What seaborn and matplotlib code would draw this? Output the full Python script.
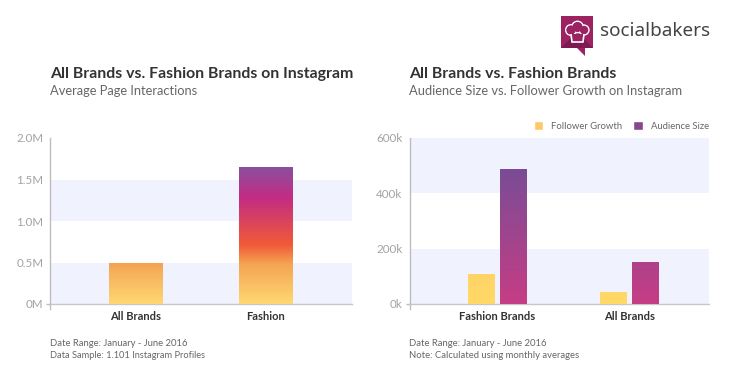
import numpy as np
import pandas as pd
import matplotlib
matplotlib.use('Agg')
import matplotlib.pyplot as plt
import seaborn as sns
from matplotlib.colors import LinearSegmentedColormap
from matplotlib.patches import Polygon, Circle, Rectangle

# data
left_categories = ['All Brands', 'Fashion']
left_values = [482000, 1647000]
left_ticks = [0, 500000, 1000000, 1500000, 2000000]
left_ticklabels = ['0M', '0.5M', '1.0M', '1.5M', '2.0M']

right_categories = ['Fashion Brands', 'All Brands']
follower_growth = [108000, 43000]
audience_size = [487000, 151000]
right_ticks = [0, 200000, 400000, 600000]
right_ticklabels = ['0k', '200k', '400k', '600k']

W, H = 730, 365
BAND = '#F0F2FD'
DARK = '#333333'
MID = '#666666'
GRAY = '#A3A3A3'
FONT = 'Lato'

sns.set_theme(style='white')
plt.rcParams['font.family'] = [FONT, 'DejaVu Sans']

left_cmap = LinearSegmentedColormap.from_list('left', [
    (0.0, '#FFD873'), (0.29, '#F4A452'), (0.43, '#F15B38'),
    (0.78, '#C32C84'), (1.0, '#8A4F9E')])
audience_cmap = LinearSegmentedColormap.from_list('aud', ['#C63D85', '#7A4C96'])
follower_cmap = LinearSegmentedColormap.from_list('fol', ['#FFD966', '#FFD468'])


def px_axes(fig, x0, x1, y0, y1):
    return fig.add_axes([x0 / W, 1 - y1 / H, (x1 - x0) / W, (y1 - y0) / H])


def gradient_bar(ax, patch, cmap, vmax):
    """ Fills a bar with a vertical gradient that follows the y scale. """
    top = patch.get_height()
    x = patch.get_x()
    grad = np.linspace(0, top / vmax, 200).reshape(-1, 1)
    ax.imshow(grad, cmap=cmap, vmin=0, vmax=1, origin='lower', aspect='auto',
              extent=[x, x + patch.get_width(), 0, top], zorder=3)
    patch.set_visible(False)


def style_axes(ax, ticks, ticklabels, bands, xlim):
    ymax = ticks[-1]
    for lo, hi in bands:
        ax.axhspan(lo, hi, color=BAND, lw=0, zorder=0)
    ax.set_xlim(*xlim)
    ax.set_ylim(0, ymax)
    ax.set_yticks(ticks)
    ax.set_yticklabels(ticklabels)
    ax.tick_params(axis='y', left=True, length=3, width=1, color='#BDBDBD', pad=2,
                   labelsize=8.4, labelcolor=GRAY)
    for i, t in enumerate(ax.yaxis.get_major_ticks()):
        t.tick1line.set_visible(i == 0)
    ax.tick_params(axis='x', bottom=False, length=0, pad=5, labelsize=8, labelcolor=DARK)
    ax.set_xlabel('')
    ax.set_ylabel('')
    ax.patch.set_alpha(0)
    sns.despine(ax=ax, top=True, right=True)
    ax.spines['left'].set_color('#BDBDBD')
    ax.spines['left'].set_bounds(-ymax * 0.03, ymax)
    ax.spines['bottom'].set_color('#C6C6CE')
    ax.spines['left'].set_linewidth(1)
    ax.spines['bottom'].set_linewidth(1)
    plt.setp(ax.get_xticklabels(), fontweight='bold')


fig = plt.figure(figsize=(W / 100, H / 100), dpi=100, facecolor='white')

# left chart
ax1 = px_axes(fig, 50.5, 352, 138, 304)
df1 = pd.DataFrame({'brand': left_categories, 'value': left_values})
sns.barplot(data=df1, x='brand', y='value', width=0.415, color='#F4A452', ax=ax1)
for bar in list(ax1.patches):
    gradient_bar(ax1, bar, left_cmap, max(left_values))
style_axes(ax1, left_ticks, left_ticklabels,
           [(0, 500000), (1000000, 1500000)], (-0.658, 1.662))

# right chart
ax2 = px_axes(fig, 409.5, 709, 138, 304)
df2 = pd.DataFrame({
    'brand': right_categories * 2,
    'metric': ['Follower Growth'] * 2 + ['Audience Size'] * 2,
    'value': follower_growth + audience_size,
})
sns.barplot(data=df2, x='brand', y='value', hue='metric', width=0.48, gap=0.148,
            palette={'Follower Growth': '#FFC765', 'Audience Size': '#8A4590'},
            saturation=1, ax=ax2)
handles, labels = ax2.get_legend_handles_labels()
bars = [b for c in ax2.containers for b in c]
for bar in bars[:2]:
    gradient_bar(ax2, bar, follower_cmap, max(follower_growth))
for bar in bars[2:]:
    gradient_bar(ax2, bar, audience_cmap, max(audience_size))
ax2.legend(handles, labels, loc='lower right', bbox_to_anchor=(1.0, 1.045), frameon=False,
           ncol=2, fontsize=6.8, labelcolor=MID, handlelength=1.0, handleheight=1.0,
           handletextpad=0.85, columnspacing=1.15, borderaxespad=0, borderpad=0)
style_axes(ax2, right_ticks, right_ticklabels,
           [(0, 200000), (400000, 600000)], (-0.667, 1.602))


def label(x, y, s, **kw):
    fig.text(x / W, 1 - y / H, s, va='center', ha='left', **kw)


# headings and notes
label(50, 74, 'All Brands vs. Fashion Brands on Instagram', fontsize=11.4, fontweight='bold', color=DARK)
label(50, 91, 'Average Page Interactions', fontsize=9.3, color=MID)
label(409, 74, 'All Brands vs. Fashion Brands', fontsize=11.4, fontweight='bold', color=DARK)
label(409, 91, 'Audience Size vs. Follower Growth on Instagram', fontsize=9.25, color=MID)
label(50, 343, 'Date Range: January - June 2016', fontsize=6.85, color=MID)
label(50, 355, 'Data Sample: 1.101 Instagram Profiles', fontsize=6.7, color=MID)
label(409, 343, 'Date Range: January - June 2016', fontsize=6.85, color=MID)
label(409, 355, 'Note: Calculated using monthly averages', fontsize=6.85, color=MID)

# logo, drawn in pixel coordinates
logo = fig.add_axes([0, 0, 1, 1], zorder=5)
logo.set_xlim(0, W)
logo.set_ylim(H, 0)
logo.axis('off')
logo.add_patch(Rectangle((561, 16), 32, 32, color='#9C2262', lw=0))
logo.add_patch(Polygon([[561, 48], [593, 48], [577, 32]], color='#7E1A52', lw=0))
logo.add_patch(Polygon([[577, 48], [585, 48], [585, 56]], color='#9C2262', lw=0))
hat = [(571, 30, 5.2), (577.5, 27, 5.6), (584, 30, 4.8)]
for cx, cy, r in hat:
    logo.add_patch(Circle((cx, cy), r, fc='none', ec='white', lw=1.2))
for cx, cy, r in hat:
    logo.add_patch(Circle((cx, cy), r - 0.6, fc='#9C2262', ec='none'))
logo.add_patch(Polygon([[571, 34], [572, 42], [583, 42], [584, 34]], closed=False,
                       fc='#9C2262', ec='white', lw=1.2))
logo.text(600, 30.5, 'socialbakers', fontsize=13.6, color='#444444', va='center', ha='left',
          family='Noto Sans')

fig.savefig('out.png', dpi=100)
